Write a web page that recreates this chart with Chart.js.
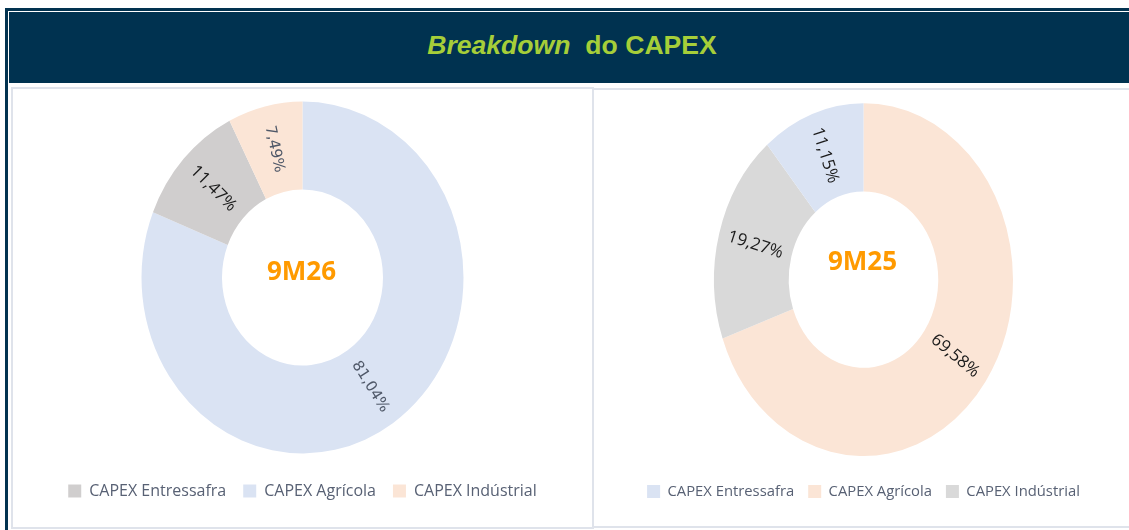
<!DOCTYPE html>
<html>
<head>
<meta charset="utf-8">
<script src="https://cdn.jsdelivr.net/npm/chart.js@4.4.1/dist/chart.umd.min.js"></script>
<style>
  html, body { margin: 0; padding: 0; background: #ffffff; overflow: hidden; width: 1129px; height: 530px; }
  #frame { position: absolute; left: 5px; top: 8px; width: 1140px; height: 540px; border-left: 3px solid #023350; border-top: 3px solid #023350; box-sizing: border-box; }
  #header { position: absolute; left: 9px; top: 12px; width: 1130px; height: 71px; background: #003250; }
  #title { position: absolute; left: 9px; top: 12px; width: 1130px; height: 66px; line-height: 66px; text-align: center;
           font-family: "Liberation Sans", Arial, sans-serif; font-weight: bold; font-size: 26.6px; color: #a6ce39; margin-left: -2px; }
  #title i { font-style: italic; }
  .panel { position: absolute; box-sizing: border-box; border: 2px solid #dfe3eb; background: #fff; }
  #pl { left: 11px; top: 87px; width: 583px; height: 442px; }
  #pr { left: 593px; top: 88px; width: 560px; height: 440px; border-left-width: 1px; }
  canvas { position: absolute; }
  #c1 { left: 13px; top: 88px; }
  #c2 { left: 596px; top: 88px; }
</style>
</head>
<body>
<div id="frame"></div>
<div id="header"></div>
<div id="title"><i>Breakdown</i>&nbsp; do CAPEX</div>
<div class="panel" id="pl"></div>
<div class="panel" id="pr"></div>
<canvas id="c1" width="579" height="421"></canvas>
<canvas id="c2" width="535" height="421"></canvas>
<script>
// ---- data ----
const categories9M26 = ['CAPEX Agrícola', 'CAPEX Entressafra', 'CAPEX Indústrial'];
const values9M26 = [81.04, 11.47, 7.49];
const labels9M26 = ['81,04%', '11,47%', '7,49%'];
const colors9M26 = ['#dae3f3', '#d0cece', '#fbe5d6'];

const categories9M25 = ['CAPEX Agrícola', 'CAPEX Indústrial', 'CAPEX Entressafra'];
const values9M25 = [69.58, 19.27, 11.15];
const labels9M25 = ['69,58%', '19,27%', '11,15%'];
const colors9M25 = ['#fbe5d6', '#d9d9d9', '#dae3f3'];

const legendOrder = ['CAPEX Entressafra', 'CAPEX Agrícola', 'CAPEX Indústrial'];
const centerTexts = ['9M26', '9M25'];

const stretchPlugin = {
  id: 'stretch',
  beforeDatasetsDraw(chart, args, opts) {
    const arc = chart.getDatasetMeta(0).data[0];
    const ctx = chart.ctx;
    ctx.save();
    ctx.translate(arc.x, arc.y);
    ctx.scale(1, opts.sy);
    ctx.translate(-arc.x, -arc.y);
  },
  afterDatasetsDraw(chart) {
    chart.ctx.restore();
  }
};

const labelPlugin = {
  id: 'arcLabels',
  afterDraw(chart, args, opts) {
    const ctx = chart.ctx;
    const sy = chart.options.plugins.stretch.sy;
    const meta = chart.getDatasetMeta(0);
    meta.data.forEach((arc, i) => {
      const mid = (arc.startAngle + arc.endAngle) / 2;
      const r = (arc.innerRadius + arc.outerRadius) / 2;
      const x = arc.x + Math.cos(mid) * r;
      const y = arc.y + Math.sin(mid) * r * sy;
      let rot = Math.atan2(Math.sin(mid) * sy, Math.cos(mid));
      if (rot > Math.PI / 2) rot -= Math.PI;
      if (rot < -Math.PI / 2) rot += Math.PI;
      const st = opts.styles[i];
      ctx.save();
      ctx.translate(x, y);
      ctx.rotate(rot);
      ctx.font = st.font;
      ctx.fillStyle = st.color;
      ctx.textAlign = 'center';
      ctx.textBaseline = 'middle';
      ctx.fillText(opts.texts[i], 0, 0);
      ctx.restore();
    });
    const a0 = meta.data[0];
    ctx.save();
    ctx.font = 'bold 26px "Open Sans", sans-serif';
    ctx.fillStyle = '#ff9a00';
    ctx.textAlign = 'center';
    ctx.textBaseline = 'middle';
    ctx.fillText(opts.center, a0.x + opts.cdx, a0.y + opts.cdy);
    ctx.restore();
  }
};

function makeChart(id, cats, vals, cols, texts, styles, center, radius, sy, cdy, legFont, legPad) {
  return new Chart(document.getElementById(id), {
    type: 'doughnut',
    data: {
      labels: cats,
      datasets: [{ data: vals, backgroundColor: cols, borderWidth: 0, radius: radius, cutout: '50%' }]
    },
    options: {
      responsive: false,
      animation: false,
      layout: { padding: { top: 1, bottom: 0, left: 0, right: 0 } },
      plugins: {
        tooltip: { enabled: false },
        stretch: { sy: sy },
        arcLabels: { texts: texts, styles: styles, center: center, cdx: -1, cdy: cdy },
        legend: {
          position: 'bottom',
          labels: {
            boxWidth: 13, boxHeight: 13, padding: legPad,
            color: '#586174',
            font: { family: '"Open Sans", sans-serif', size: legFont },
            sort: (a, b) => legendOrder.indexOf(a.text) - legendOrder.indexOf(b.text)
          }
        }
      }
    },
    plugins: [stretchPlugin, labelPlugin]
  });
}

const slateGray = { font: '15px "DejaVu Sans", sans-serif', color: '#4f5868' };
const sansBlack = { font: '17px "Open Sans", sans-serif', color: '#1a1a1a' };

makeChart('c1', categories9M26, values9M26, colors9M26, labels9M26,
  [slateGray, sansBlack, slateGray], centerTexts[0], 161, 1.093, -5, 16, 17);
makeChart('c2', categories9M25, values9M25, colors9M25, labels9M25,
  [sansBlack, sansBlack, sansBlack], centerTexts[1], 149.5, 1.18, -17, 14.8, 14);
</script>
</body>
</html>
